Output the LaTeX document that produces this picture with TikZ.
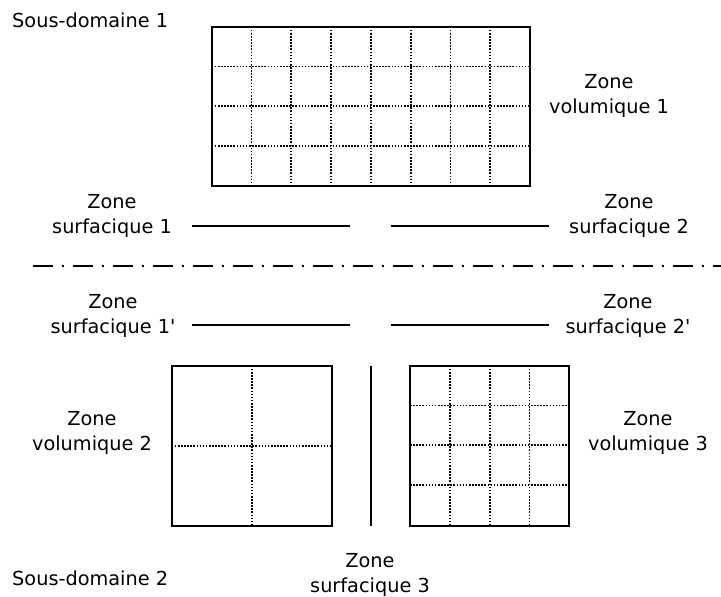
\documentclass[tikz,border=0pt]{standalone}
\usepackage{fontspec}
\setmainfont{DejaVu Sans}[Ligatures=TeXOff]
\begin{document}
\begin{tikzpicture}[x=1pt,y=-1pt,
  lbl/.style={anchor=north,inner sep=0pt,align=center,font=\fontsize{19.3}{25}\selectfont},
  sdlbl/.style={anchor=north west,inner sep=0pt,font=\fontsize{19.3}{25}\selectfont},
  frame/.style={draw=black,line width=2pt},
  gridline/.style={line width=1.7pt,dash pattern=on 1.6pt off 1.5pt},
  surf/.style={line width=1.6pt},
  axisline/.style={line width=1.7pt,dash pattern=on 20pt off 9pt on 2pt off 9pt}]
\useasboundingbox (0,0) rectangle (721,597);

% top volume zone
\foreach \i in {1,...,7}
  \draw[gridline] ({211.7+\i*39.79},26.7) -- ({211.7+\i*39.79},185.7);
\foreach \j in {1,2,3}
  \draw[gridline] (211.7,{26.7+\j*39.75}) -- (530,{26.7+\j*39.75});
\draw[frame] (211.7,26.7) rectangle (530,185.7);

% surface zones
\coordinate (s1a) at (192,226); \coordinate (s1b) at (350,226);
\coordinate (s2a) at (391,226); \coordinate (s2b) at (549,226);
\coordinate (s1pa) at (192,325); \coordinate (s1pb) at (350,325);
\coordinate (s2pa) at (391,325); \coordinate (s2pb) at (549,325);
\draw[surf] (s1a) -- (s1b);
\draw[surf] (s2a) -- (s2b);
\draw[surf] (s1pa) -- (s1pb);
\draw[surf] (s2pa) -- (s2pb);

% interface axis
\coordinate (axA) at (32.7,265.7); \coordinate (axB) at (721,265.7);
\draw[axisline] (axA) -- (axB);

% lower left volume
\draw[gridline] (251.7,365.7) -- (251.7,525.7);
\draw[gridline] (171.7,445.7) -- (331.7,445.7);
\draw[frame] (171.7,365.7) rectangle (331.7,525.7);

% surface zone 3
\coordinate (s3a) at (370.7,365.7); \coordinate (s3b) at (370.7,525.7);
\draw[line width=2pt] (s3a) -- (s3b);

% lower right volume
\foreach \i in {1,2,3}
  \draw[gridline] ({410+\i*39.83},365.7) -- ({410+\i*39.83},525.7);
\foreach \j in {1,2,3}
  \draw[gridline] (410,{365.7+\j*39.75}) -- (569.3,{365.7+\j*39.75});
\draw[frame] (410,365.7) rectangle (569.3,525.7);

% labels
\node[sdlbl] (sd1) at (12,13) {Sous-domaine 1};
\node[sdlbl] (sd2) at (12,571) {Sous-domaine 2};
\node[lbl] (zv1) at (609,74) {Zone\\volumique 1};
\node[lbl] (zs1) at (112,194) {Zone\\surfacique 1};
\node[lbl] (zs2) at (629,194) {Zone\\surfacique 2};
\node[lbl] (zs1p) at (113,294) {Zone\\surfacique 1'};
\node[lbl] (zs2p) at (628,294) {Zone\\surfacique 2'};
\node[lbl] (zv2) at (92,411) {Zone\\volumique 2};
\node[lbl] (zv3) at (648,411) {Zone\\volumique 3};
\node[lbl] (zs3) at (370,553) {Zone\\surfacique 3};
\end{tikzpicture}
\end{document}
